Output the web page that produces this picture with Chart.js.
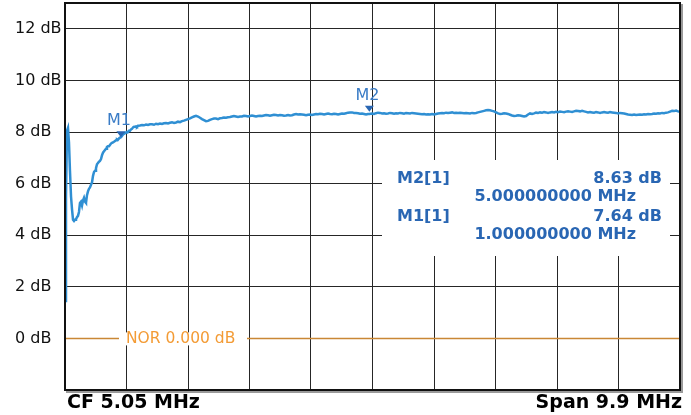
<!DOCTYPE html>
<html><head><meta charset="utf-8">
<script src="https://cdn.jsdelivr.net/npm/chart.js@4.4.0/dist/chart.umd.min.js"></script>
<style>html,body{margin:0;padding:0;background:#fff}#wrap{width:691px;height:415px}</style>
</head><body><div id="wrap"><canvas id="c" width="691" height="415"></canvas></div>
<script>
// Trace: [frequency MHz, level dB]
const tracePoints = [
[0.100,1.45],[0.116,5.50],[0.132,8.05],[0.148,8.16],[0.164,7.60],[0.180,6.50],[0.197,5.50],[0.213,5.00],[0.229,4.60],[0.245,4.55],
[0.261,4.60],[0.277,4.62],[0.293,4.70],[0.309,4.75],[0.325,4.90],[0.341,5.25],[0.357,5.30],[0.374,5.15],[0.390,5.35],[0.406,5.45],
[0.422,5.30],[0.438,5.25],[0.454,5.55],[0.470,5.70],[0.486,5.80],[0.502,5.85],[0.518,5.95],[0.535,6.05],[0.551,6.30],[0.567,6.45],
[0.583,6.50],[0.599,6.60],[0.615,6.75],[0.631,6.80],[0.647,6.85],[0.663,6.88],[0.680,6.95],[0.696,7.10],[0.712,7.20],[0.728,7.25],
[0.744,7.30],[0.760,7.35],[0.776,7.42],[0.792,7.45],[0.808,7.45],[0.824,7.50],[0.840,7.55],[0.857,7.58],[0.873,7.60],[0.889,7.62],
[0.905,7.65],[0.921,7.68],[0.937,7.72],[0.953,7.70],[0.969,7.75],[0.985,7.78],[1.001,7.80],[1.017,7.85],[1.034,7.90],[1.050,7.93],
[1.066,7.95],[1.082,7.98],[1.098,8.00],[1.114,8.00],[1.130,8.05],[1.146,8.05],[1.162,8.10],[1.178,8.12],[1.195,8.18],[1.211,8.20],
[1.227,8.20],[1.243,8.22],[1.259,8.20],[1.275,8.24],[1.307,8.25],[1.340,8.27],[1.372,8.26],[1.404,8.29],[1.436,8.27],[1.468,8.30],
[1.500,8.30],[1.533,8.28],[1.565,8.32],[1.597,8.30],[1.629,8.33],[1.661,8.31],[1.694,8.34],[1.726,8.35],[1.758,8.33],[1.790,8.36],
[1.822,8.38],[1.855,8.35],[1.887,8.37],[1.919,8.40],[1.951,8.38],[1.983,8.42],[2.015,8.44],[2.048,8.47],[2.080,8.50],[2.112,8.53],
[2.144,8.57],[2.176,8.60],[2.209,8.63],[2.241,8.60],[2.273,8.55],[2.305,8.50],[2.337,8.46],[2.370,8.42],[2.402,8.43],[2.434,8.47],
[2.466,8.50],[2.498,8.52],[2.531,8.52],[2.563,8.50],[2.595,8.53],[2.627,8.54],[2.659,8.56],[2.692,8.55],[2.724,8.57],[2.756,8.58],
[2.788,8.60],[2.820,8.62],[2.853,8.60],[2.885,8.58],[2.917,8.60],[2.949,8.60],[2.981,8.63],[3.014,8.62],[3.046,8.60],[3.078,8.62],
[3.110,8.64],[3.142,8.62],[3.175,8.60],[3.207,8.62],[3.239,8.63],[3.271,8.62],[3.303,8.64],[3.336,8.66],[3.368,8.65],[3.400,8.63],
[3.432,8.65],[3.464,8.67],[3.497,8.66],[3.529,8.64],[3.561,8.66],[3.593,8.65],[3.626,8.63],[3.658,8.64],[3.690,8.66],[3.722,8.64],
[3.754,8.65],[3.787,8.68],[3.819,8.70],[3.851,8.68],[3.883,8.69],[3.915,8.68],[3.948,8.67],[3.980,8.65],[4.012,8.67],[4.044,8.68],
[4.076,8.66],[4.109,8.68],[4.141,8.70],[4.173,8.69],[4.205,8.71],[4.238,8.70],[4.270,8.68],[4.302,8.70],[4.334,8.72],[4.366,8.70],
[4.399,8.69],[4.431,8.71],[4.463,8.70],[4.495,8.68],[4.527,8.70],[4.560,8.72],[4.592,8.71],[4.624,8.73],[4.656,8.75],[4.688,8.76],
[4.721,8.76],[4.753,8.74],[4.785,8.74],[4.817,8.73],[4.849,8.71],[4.882,8.72],[4.914,8.70],[4.946,8.68],[4.978,8.70],[5.000,8.70],
[5.043,8.72],[5.075,8.70],[5.107,8.73],[5.139,8.75],[5.171,8.74],[5.204,8.72],[5.236,8.73],[5.268,8.71],[5.300,8.72],[5.332,8.74],
[5.365,8.73],[5.397,8.71],[5.429,8.73],[5.461,8.72],[5.493,8.74],[5.526,8.73],[5.558,8.71],[5.590,8.74],[5.622,8.73],[5.654,8.72],
[5.687,8.74],[5.719,8.73],[5.751,8.72],[5.783,8.71],[5.815,8.70],[5.848,8.69],[5.880,8.70],[5.912,8.68],[5.944,8.69],[5.977,8.68],
[6.009,8.70],[6.041,8.68],[6.073,8.70],[6.105,8.72],[6.138,8.73],[6.170,8.74],[6.202,8.73],[6.234,8.75],[6.266,8.74],[6.298,8.75],
[6.331,8.76],[6.363,8.74],[6.395,8.75],[6.427,8.74],[6.459,8.75],[6.492,8.74],[6.524,8.73],[6.556,8.74],[6.588,8.73],[6.620,8.72],
[6.653,8.74],[6.685,8.73],[6.717,8.74],[6.749,8.76],[6.781,8.78],[6.814,8.80],[6.846,8.82],[6.878,8.84],[6.910,8.85],[6.942,8.84],
[6.975,8.82],[7.007,8.80],[7.039,8.76],[7.071,8.72],[7.103,8.70],[7.136,8.71],[7.168,8.73],[7.200,8.72],[7.232,8.70],[7.264,8.67],
[7.297,8.64],[7.329,8.62],[7.361,8.63],[7.393,8.65],[7.425,8.64],[7.458,8.62],[7.490,8.60],[7.522,8.62],[7.554,8.68],[7.586,8.72],
[7.619,8.70],[7.651,8.72],[7.683,8.75],[7.715,8.74],[7.747,8.76],[7.780,8.75],[7.812,8.77],[7.844,8.76],[7.876,8.74],[7.908,8.76],
[7.941,8.77],[7.973,8.76],[8.005,8.78],[8.037,8.77],[8.069,8.79],[8.102,8.78],[8.134,8.77],[8.166,8.79],[8.198,8.80],[8.230,8.79],
[8.263,8.78],[8.295,8.80],[8.327,8.82],[8.359,8.81],[8.391,8.80],[8.424,8.82],[8.456,8.80],[8.488,8.78],[8.520,8.76],[8.552,8.77],
[8.585,8.76],[8.617,8.75],[8.649,8.77],[8.681,8.76],[8.713,8.74],[8.746,8.76],[8.778,8.77],[8.810,8.76],[8.842,8.75],[8.874,8.77],
[8.907,8.76],[8.939,8.75],[8.971,8.74],[9.003,8.72],[9.035,8.74],[9.068,8.73],[9.100,8.72],[9.132,8.70],[9.164,8.68],[9.196,8.67],
[9.229,8.66],[9.261,8.68],[9.293,8.66],[9.325,8.67],[9.357,8.68],[9.390,8.67],[9.422,8.69],[9.454,8.68],[9.486,8.70],[9.518,8.69],
[9.551,8.70],[9.583,8.72],[9.615,8.71],[9.647,8.73],[9.679,8.72],[9.712,8.74],[9.744,8.73],[9.776,8.75],[9.808,8.76],[9.840,8.79],
[9.873,8.82],[9.905,8.81],[9.937,8.83],[9.969,8.80],[10.000,8.78]
];
const yTickValues = [0, 2, 4, 6, 8, 10, 12];
const xGridMHz = [0.1, 1.09, 2.08, 3.07, 4.06, 5.05, 6.04, 7.03, 8.02, 9.01, 10.0];
const markerNames = ['M1', 'M2'];
const markerFreqMHz = [1.0, 5.0];
const markerLevelDb = [7.64, 8.63];
const markerTableRows = [
  ['M2[1]', '8.63 dB', '5.000000000 MHz'],
  ['M1[1]', '7.64 dB', '1.000000000 MHz']
];
const norLevelDb = 0;
const norLabel = 'NOR 0.000 dB';
const cfLabel = 'CF 5.05 MHz';
const spanLabel = 'Span 9.9 MHz';
const freqMin = 0.1, freqMax = 10.0, dbMin = -2, dbMax = 13;

const FONT = "'DejaVu Sans', Verdana, sans-serif";
const MBLUE = '#2966b3';

const overlay = {
  id: 'overlay',
  afterDraw(chart) {
    const ctx = chart.ctx, a = chart.chartArea;
    const xs = chart.scales.x, ys = chart.scales.y;
    ctx.save();
    // NOR label box
    const ny = ys.getPixelForValue(norLevelDb);
    ctx.fillStyle = '#fff';
    ctx.fillRect(119, ny - 6, 128, 13);
    ctx.font = "15.5px " + FONT;
    ctx.fillStyle = '#f39b35';
    ctx.textAlign = 'left'; ctx.textBaseline = 'middle';
    ctx.fillText(norLabel, 126, ny + 0.5);
    // marker info box
    ctx.fillStyle = '#fff';
    ctx.fillRect(382, 160, 288, 96);
    ctx.font = "bold 16px " + FONT;
    ctx.fillStyle = MBLUE;
    markerTableRows.forEach((r, i) => {
      const y0 = 179 + i * 38;
      ctx.textAlign = 'left';
      ctx.fillText(r[0], 397, y0);
      ctx.textAlign = 'right';
      ctx.fillText(r[1], 662, y0);
      ctx.fillText(r[2], 636, y0 + 18);
    });
    // marker triangles and names
    markerNames.forEach((n, i) => {
      const px = xs.getPixelForValue(markerFreqMHz[i]);
      const py = ys.getPixelForValue(markerLevelDb[i]) - 4;
      ctx.fillStyle = MBLUE;
      ctx.beginPath();
      ctx.moveTo(px - 4.5, py - 6);
      ctx.lineTo(px + 4.5, py - 6);
      ctx.lineTo(px, py);
      ctx.closePath(); ctx.fill();
      ctx.font = "16px " + FONT;
      ctx.fillStyle = '#3a7cc6';
      ctx.textAlign = 'center'; ctx.textBaseline = 'middle';
      ctx.fillText(n, px - 2, py - 16);
    });
    // frame
    ctx.strokeStyle = '#9a9a9a'; ctx.lineWidth = 2;
    ctx.beginPath();
    ctx.moveTo(a.right + 2, a.top + 1); ctx.lineTo(a.right + 2, a.bottom + 2);
    ctx.lineTo(a.left + 1, a.bottom + 2);
    ctx.stroke();
    ctx.strokeStyle = '#111'; ctx.lineWidth = 2;
    ctx.strokeRect(a.left, a.top, a.right - a.left, a.bottom - a.top);
    // bottom labels
    ctx.font = "bold 19px " + FONT;
    ctx.fillStyle = '#000';
    ctx.textBaseline = 'middle';
    ctx.textAlign = 'left';
    ctx.fillText(cfLabel, a.left + 2, 403);
    ctx.textAlign = 'right';
    ctx.fillText(spanLabel, a.right + 2, 403);
    ctx.restore();
  }
};

new Chart(document.getElementById('c'), {
  type: 'scatter',
  data: {
    datasets: [
      {
        data: tracePoints.map(p => ({x: p[0], y: p[1]})),
        showLine: true, borderColor: '#2f8fd3', borderWidth: 2.5,
        pointRadius: 0, tension: 0, order: 1
      },
      {
        data: [{x: freqMin, y: norLevelDb}, {x: freqMax, y: norLevelDb}],
        showLine: true, borderColor: '#c98735', borderWidth: 1.5,
        pointRadius: 0, order: 2
      }
    ]
  },
  options: {
    responsive: false, animation: false, devicePixelRatio: 1,
    layout: {padding: {left: 15, top: 3, right: 11, bottom: 0}},
    plugins: {legend: {display: false}, tooltip: {enabled: false}},
    scales: {
      x: {
        type: 'linear', min: freqMin, max: freqMax,
        afterBuildTicks: s => { s.ticks = xGridMHz.map(v => ({value: v})); },
        afterFit: s => { s.height = 25; s.paddingLeft = 0; s.paddingRight = 0; },
        ticks: {display: false, autoSkip: false},
        grid: {color: '#262626', lineWidth: 1, drawTicks: false},
        border: {display: false}
      },
      y: {
        type: 'linear', min: dbMin, max: dbMax,
        afterBuildTicks: s => { s.ticks = yTickValues.map(v => ({value: v})); },
        afterFit: s => { s.width = 50; s.paddingTop = 0; s.paddingBottom = 0; },
        ticks: {
          autoSkip: false, crossAlign: 'far', padding: 0,
          callback: v => v + ' dB',
          font: {family: FONT, size: 16}, color: '#111'
        },
        grid: {color: '#262626', lineWidth: 1, drawTicks: false},
        border: {display: false}
      }
    }
  },
  plugins: [overlay]
});
</script>
</body></html>
